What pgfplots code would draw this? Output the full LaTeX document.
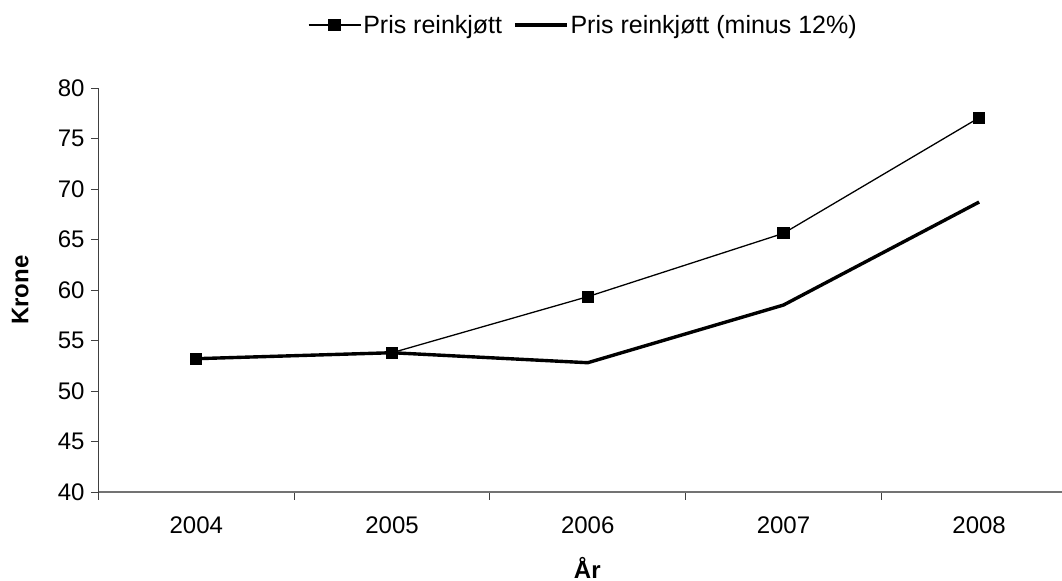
\documentclass[border=0pt]{standalone}
\usepackage{pgfplots}
\pgfplotsset{compat=1.18}
\usepackage{fontspec}
\setmainfont{Liberation Sans}
\begin{document}
\begin{tikzpicture}[font=\fontsize{24bp}{28bp}\selectfont]
\useasboundingbox (0bp,0bp) rectangle (1062bp,581bp);
\begin{axis}[
  at={(98.5bp,89bp)}, anchor=south west,
  scale only axis, width=978.5bp, height=404bp,
  xmin=-0.5, xmax=4.5, ymin=40, ymax=80,
  axis x line=bottom, axis y line=left,
  axis line style={-},
  x axis line style={draw=black!55, line width=1.4pt},
  y axis line style={draw=black!75, line width=0.9pt},
  xtick={0,1,2,3,4},
  xticklabels={2004,2005,2006,2007,2008},
  major x tick style={draw=none},
  minor xtick={-0.5,0.5,1.5,2.5,3.5,4.5},
  minor x tick style={black!75, line width=0.9pt},
  ytick={40,45,...,80},
  y tick style={black!75, line width=0.9pt},
  tick align=outside,
  major tick length=7.5bp, minor tick length=7.5bp,
  /pgf/number format/assume math mode=true,
  ticklabel style={font=\fontsize{24bp}{28bp}\selectfont},
  xticklabel style={yshift=-14bp},
  yticklabel style={xshift=-3bp},
  xlabel={\textbf{År}},
  xlabel style={at={(axis description cs:0.4995,-0.2130)}, anchor=base, inner sep=0pt, font=\fontsize{24bp}{28bp}\selectfont},
  ylabel={\textbf{Krone}},
  ylabel style={at={(axis description cs:-0.0800,0.5)}, anchor=center, font=\fontsize{24bp}{28bp}\selectfont},
  legend columns=2,
  legend style={at={(0.4955,1.1560)}, anchor=center, draw=none, fill=none,
    font=\fontsize{25bp}{29bp}\selectfont,
    nodes={inner sep=2bp},
    /tikz/every even column/.append style={column sep=9bp}},
  legend image code/.code={\draw[#1] (0bp,0bp) -- (52bp,0bp); \path[#1, mark repeat=1] plot coordinates {(26bp,0bp)};},
  clip=false,
]
\addlegendimage{black, line width=1.3pt, mark=square*, mark size=5.5bp}
\addlegendentry{Pris reinkjøtt}
\addlegendimage{black, line width=3.4pt, mark=none}
\addlegendentry{Pris reinkjøtt (minus 12\%)}
\addplot[black, line width=3.4pt, forget plot, line join=round] coordinates {
  (0,53.2) (1,53.79) (2,52.8) (3,58.51) (4,68.71)
};
\addplot[black, line width=1.3pt, mark=square*, mark size=5.5bp, forget plot] coordinates {
  (0,53.2) (1,53.79) (2,59.34) (3,65.61) (4,77.06)
};
\end{axis}
\end{tikzpicture}
\end{document}
